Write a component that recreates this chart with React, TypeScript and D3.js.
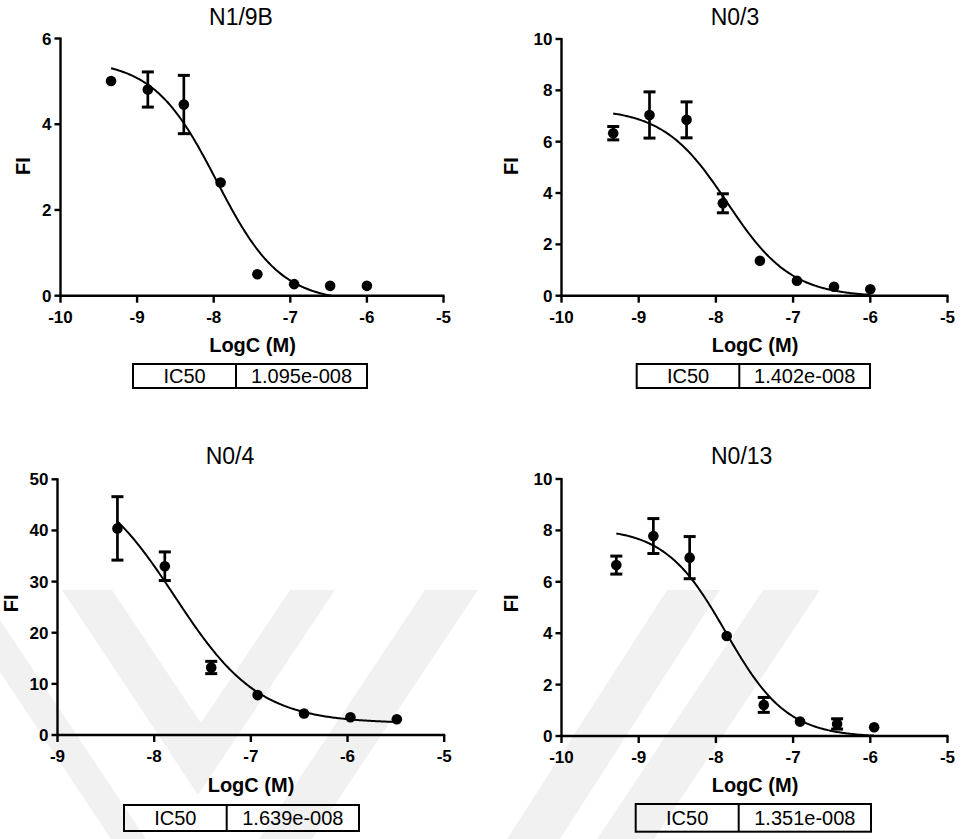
import React from "react";
import * as d3 from "d3";

// ---- N1/9B ----
const n19bLogC = [-9.34, -8.86, -8.39, -7.91, -7.43, -6.95, -6.48, -6.0];
const n19bFI = [5.01, 4.81, 4.46, 2.64, 0.5, 0.27, 0.23, 0.23];
const n19bErr = [0, 0.41, 0.68, 0, 0, 0, 0, 0];
const n19bIC50 = "1.095e-008";

// ---- N0/3 ----
const n03LogC = [-9.33, -8.86, -8.38, -7.91, -7.43, -6.95, -6.47, -6.0];
const n03FI = [6.33, 7.04, 6.85, 3.6, 1.36, 0.58, 0.35, 0.25];
const n03Err = [0.26, 0.9, 0.7, 0.37, 0, 0, 0, 0];
const n03IC50 = "1.402e-008";

// ---- N0/4 ----
const n04LogC = [-8.38, -7.89, -7.41, -6.93, -6.45, -5.97, -5.49];
const n04FI = [40.4, 33.0, 13.2, 7.8, 4.2, 3.46, 3.07];
const n04Err = [6.2, 2.8, 1.2, 0, 0, 0, 0];
const n04IC50 = "1.639e-008";

// ---- N0/13 ----
const n013LogC = [-9.29, -8.81, -8.34, -7.86, -7.38, -6.91, -6.43, -5.95];
const n013FI = [6.65, 7.78, 6.94, 3.89, 1.21, 0.56, 0.47, 0.34];
const n013Err = [0.35, 0.68, 0.82, 0, 0.29, 0, 0.2, 0];
const n013IC50 = "1.351e-008";

// Axis ticks
const xTicksWide = [-10, -9, -8, -7, -6, -5];
const xTicksNarrow = [-9, -8, -7, -6, -5];
const yTicks6 = [0, 2, 4, 6];
const yTicks10 = [0, 2, 4, 6, 8, 10];
const yTicks50 = [0, 10, 20, 30, 40, 50];

// Fitted dose-response parameters (top, bottom, Hill slope)
const n19bFit = [5.5, -0.15, 1.05];
const n03Fit = [7.3, -0.05, 1.05];
const n04Fit = [51.8, 2.3, 1.0];
const n013Fit = [8.1, -0.05, 1.1];

type Panel = {
  id: string;
  title: string;
  logC: number[];
  fi: number[];
  err: number[];
  ic50: string;
  fit: number[];
  xDomain: [number, number];
  xTicks: number[];
  yDomain: [number, number];
  yTicks: number[];
  xRange: [number, number];
  yRange: [number, number];
  titleX: number;
  titleY: number;
  xLabelX: number;
  xLabelY: number;
  yLabelX: number;
  yLabelY: number;
  box: { x0: number; x1: number; x2: number; y0: number; y1: number; base: number };
};

const panels: Panel[] = [
  {
    id: "p1",
    title: "N1/9B",
    logC: n19bLogC,
    fi: n19bFI,
    err: n19bErr,
    ic50: n19bIC50,
    fit: n19bFit,
    xDomain: [-10, -5],
    xTicks: xTicksWide,
    yDomain: [0, 6],
    yTicks: yTicks6,
    xRange: [60.5, 443.5],
    yRange: [295.7, 38.5],
    titleX: 241,
    titleY: 25,
    xLabelX: 252.5,
    xLabelY: 352,
    yLabelX: 30,
    yLabelY: 166,
    box: { x0: 133, x1: 236, x2: 367, y0: 364, y1: 388, base: 383 },
  },
  {
    id: "p2",
    title: "N0/3",
    logC: n03LogC,
    fi: n03FI,
    err: n03Err,
    ic50: n03IC50,
    fit: n03Fit,
    xDomain: [-10, -5],
    xTicks: xTicksWide,
    yDomain: [0, 10],
    yTicks: yTicks10,
    xRange: [561.5, 947.5],
    yRange: [295.7, 39],
    titleX: 735,
    titleY: 25,
    xLabelX: 755,
    xLabelY: 352,
    yLabelX: 518,
    yLabelY: 166,
    box: { x0: 636.7, x1: 739.3, x2: 870, y0: 364, y1: 388, base: 383 },
  },
  {
    id: "p3",
    title: "N0/4",
    logC: n04LogC,
    fi: n04FI,
    err: n04Err,
    ic50: n04IC50,
    fit: n04Fit,
    xDomain: [-9, -5],
    xTicks: xTicksNarrow,
    yDomain: [0, 50],
    yTicks: yTicks50,
    xRange: [57.5, 444.2],
    yRange: [735, 479.3],
    titleX: 230,
    titleY: 464,
    xLabelX: 251,
    xLabelY: 791.7,
    yLabelX: 17.5,
    yLabelY: 603.3,
    box: { x0: 124, x1: 226.7, x2: 359, y0: 805, y1: 831, base: 825 },
  },
  {
    id: "p4",
    title: "N0/13",
    logC: n013LogC,
    fi: n013FI,
    err: n013Err,
    ic50: n013IC50,
    fit: n013Fit,
    xDomain: [-10, -5],
    xTicks: xTicksWide,
    yDomain: [0, 10],
    yTicks: yTicks10,
    xRange: [561.5, 947.5],
    yRange: [736, 479],
    titleX: 741.7,
    titleY: 464,
    xLabelX: 755,
    xLabelY: 791.7,
    yLabelX: 518,
    yLabelY: 603.3,
    box: { x0: 635.7, x1: 738.7, x2: 871, y0: 804, y1: 831.7, base: 825 },
  },
];

// Faint background emblem behind the lower row
const emblemBands = [
  "M0,620 L146,839 L111,839 L0,672 Z",
  "M62,590 L112,590 L201,723 L290,590 L335,590 L198,795 Z",
  "M425,590 L478,590 L312,839 L259,839 Z",
  "M667,590 L720,590 L560,839 L507,839 Z",
  "M763,590 L820,590 L654,839 L597,839 Z",
];

const FONT = "'Liberation Sans', Arial, Helvetica, sans-serif";

function DoseResponse({ p }: { p: Panel }) {
  const x = d3.scaleLinear().domain(p.xDomain).range(p.xRange);
  const y = d3.scaleLinear().domain(p.yDomain).range(p.yRange);
  const [top, bottom, hill] = p.fit;
  const logIC50 = Math.log10(parseFloat(p.ic50));
  const model = (lx: number) =>
    bottom + (top - bottom) / (1 + Math.pow(10, (lx - logIC50) * hill));

  const xStart = d3.min(p.logC) as number;
  const xEnd = d3.max(p.logC) as number;
  const curvePts = d3.range(0, 201).map((i) => {
    const lx = xStart + ((xEnd - xStart) * i) / 200;
    return [lx, model(lx)] as [number, number];
  });
  const line = d3
    .line<[number, number]>()
    .x((d) => x(d[0]))
    .y((d) => y(d[1]));

  const [x0, x1] = p.xRange;
  const [y0, y1] = p.yRange;
  const capW = 6;

  return (
    <g>
      <defs>
        <clipPath id={`clip-${p.id}`}>
          <rect x={x0} y={y1 - 20} width={x1 - x0 + 20} height={y0 - y1 + 20} />
        </clipPath>
      </defs>

      {/* title */}
      <text x={p.titleX} y={p.titleY} textAnchor="middle" fontSize={23} fontFamily={FONT}>
        {p.title}
      </text>

      {/* fitted curve */}
      <path
        d={line(curvePts) || ""}
        fill="none"
        stroke="#000"
        strokeWidth={2}
        clipPath={`url(#clip-${p.id})`}
      />

      {/* error bars */}
      {p.logC.map((lx, i) =>
        p.err[i] > 0 ? (
          <g key={`e${i}`} stroke="#000" strokeWidth={2.7}>
            <line x1={x(lx)} x2={x(lx)} y1={y(p.fi[i] - p.err[i])} y2={y(p.fi[i] + p.err[i])} />
            <line
              x1={x(lx) - capW}
              x2={x(lx) + capW}
              y1={y(p.fi[i] + p.err[i])}
              y2={y(p.fi[i] + p.err[i])}
              strokeWidth={3}
            />
            <line
              x1={x(lx) - capW}
              x2={x(lx) + capW}
              y1={y(p.fi[i] - p.err[i])}
              y2={y(p.fi[i] - p.err[i])}
              strokeWidth={3}
            />
          </g>
        ) : null
      )}

      {/* points */}
      {p.logC.map((lx, i) => (
        <circle key={`c${i}`} cx={x(lx)} cy={y(p.fi[i])} r={5.3} fill="#000" />
      ))}

      {/* axes */}
      <g stroke="#000" strokeWidth={2.4} fill="none">
        <line x1={x0} x2={x1 + 1} y1={y0} y2={y0} />
        <line x1={x0} x2={x0} y1={y0 + 1} y2={y1 - 1} />
        {p.xTicks.map((t) => (
          <line key={`xt${t}`} x1={x(t)} x2={x(t)} y1={y0} y2={y0 + 7} />
        ))}
        {p.yTicks.map((t) => (
          <line key={`yt${t}`} x1={x0 - 6} x2={x0} y1={y(t)} y2={y(t)} />
        ))}
      </g>
      <g fontFamily={FONT} fontWeight="bold" fontSize={17} fill="#000">
        {p.xTicks.map((t) => (
          <text key={`xl${t}`} x={x(t)} y={y0 + 27} textAnchor="middle">
            {t}
          </text>
        ))}
        {p.yTicks.map((t) => (
          <text key={`yl${t}`} x={x0 - 9} y={y(t) + 6} textAnchor="end">
            {t}
          </text>
        ))}
      </g>

      {/* axis titles */}
      <text
        x={p.xLabelX}
        y={p.xLabelY}
        textAnchor="middle"
        fontFamily={FONT}
        fontWeight="bold"
        fontSize={20}
      >
        LogC (M)
      </text>
      <text
        transform={`translate(${p.yLabelX},${p.yLabelY}) rotate(-90)`}
        textAnchor="middle"
        fontFamily={FONT}
        fontWeight="bold"
        fontSize={20}
      >
        FI
      </text>

      {/* IC50 table */}
      <g>
        <rect
          x={p.box.x0}
          y={p.box.y0}
          width={p.box.x2 - p.box.x0}
          height={p.box.y1 - p.box.y0}
          fill="none"
          stroke="#000"
          strokeWidth={2}
        />
        <line x1={p.box.x1} x2={p.box.x1} y1={p.box.y0} y2={p.box.y1} stroke="#000" strokeWidth={2} />
        <text
          x={(p.box.x0 + p.box.x1) / 2}
          y={p.box.base}
          textAnchor="middle"
          fontFamily={FONT}
          fontSize={20}
        >
          IC50
        </text>
        <text
          x={(p.box.x1 + p.box.x2) / 2}
          y={p.box.base}
          textAnchor="middle"
          fontFamily={FONT}
          fontSize={20}
        >
          {p.ic50}
        </text>
      </g>
    </g>
  );
}

export default function App() {
  return (
    <svg
      width={962}
      height={839}
      viewBox="0 0 962 839"
      style={{ position: "absolute", left: 0, top: 0, background: "#fff" }}
    >
      <rect width={962} height={839} fill="#fff" />
      <g fill="#f1f1f1">
        {emblemBands.map((d, i) => (
          <path key={`b${i}`} d={d} />
        ))}
      </g>
      {panels.map((p) => (
        <DoseResponse key={p.id} p={p} />
      ))}
    </svg>
  );
}
